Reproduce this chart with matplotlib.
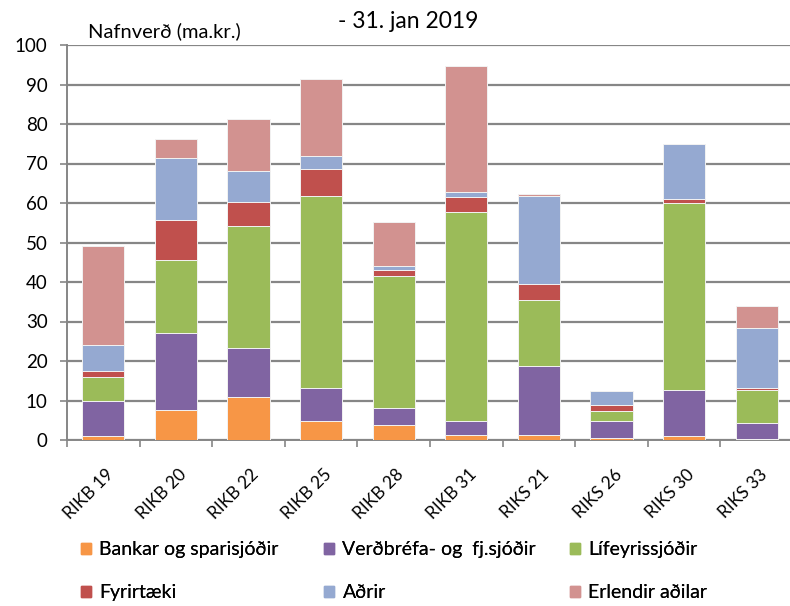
import numpy as np
import matplotlib.pyplot as plt
from matplotlib.patches import Patch

plt.rcParams['font.family'] = ['Lato', 'DejaVu Sans']

# Eigendur ríkisbréfa, nafnverð í ma.kr.
flokkar = ['RIKB 19', 'RIKB 20', 'RIKB 22', 'RIKB 25', 'RIKB 28',
           'RIKB 31', 'RIKS 21', 'RIKS 26', 'RIKS 30', 'RIKS 33']
bankar = [1.0, 7.5, 10.9, 4.7, 3.7, 1.3, 1.2, 0.4, 0.9, 0.2]
verdbref = [8.9, 19.5, 12.5, 8.5, 4.5, 3.4, 17.6, 4.4, 11.8, 4.0]
lifeyrir = [6.1, 18.6, 30.8, 48.6, 33.3, 53.0, 16.7, 2.5, 47.2, 8.5]
fyrirtaeki = [1.5, 10.0, 6.0, 6.9, 1.5, 3.9, 4.1, 1.5, 1.0, 0.5]
adrir = [6.5, 15.7, 8.0, 3.1, 1.1, 1.1, 22.1, 3.6, 14.0, 15.1]
erlendir = [25.1, 4.9, 13.1, 19.7, 11.0, 31.9, 0.5, 0.0, 0.1, 5.5]

radir = [
    ('Bankar og sparisjóðir', bankar, '#F79646'),
    ('Verðbréfa- og  fj.sjóðir', verdbref, '#8064A2'),
    ('Lífeyrissjóðir', lifeyrir, '#9BBB59'),
    ('Fyrirtæki', fyrirtaeki, '#C0504D'),
    ('Aðrir', adrir, '#95A9D1'),
    ('Erlendir aðilar', erlendir, '#D29290'),
]

fig = plt.figure(figsize=(7.9, 6.06), dpi=100)
ax = fig.add_axes([67 / 790, 1 - 440 / 606, 726 / 790, 395 / 606])

x = np.arange(len(flokkar))
botn = np.zeros(len(flokkar))
for nafn, gildi, litur in radir:
    ax.bar(x, gildi, 0.58, bottom=botn, color=litur, edgecolor='#F2F2F2',
           linewidth=0.7, zorder=3)
    botn += np.array(gildi)

ax.set_xlim(-0.5, len(flokkar) - 0.5)
ax.set_ylim(0, 100)
ax.set_yticks(np.arange(0, 101, 10))
ax.tick_params(axis='y', labelsize=13.5, length=5, width=1.2, color='#868686', pad=9)
ax.grid(axis='y', color='#868686', linewidth=1.6, zorder=0)

ax.set_xticks(x + 0.03)
ax.set_xticklabels(flokkar, rotation=45, ha='right', rotation_mode='anchor', fontsize=12.5)
ax.tick_params(axis='x', length=0, pad=19)
ax.set_xticks(np.arange(-0.5, len(flokkar), 1), minor=True)
ax.tick_params(axis='x', which='minor', length=5, width=1.2, color='#868686')

for s in ['top', 'right']:
    ax.spines[s].set_visible(False)
for s in ['left', 'bottom']:
    ax.spines[s].set_color('#868686')
    ax.spines[s].set_linewidth(1.4)

fig.text(88 / 790, 1 - 31 / 606, 'Nafnverð (ma.kr.)', fontsize=14.5, va='center')
fig.text(408 / 790, 1 - 22 / 606, '- 31. jan 2019', fontsize=16.5, ha='center', va='center')

# þrír dálkar í skýringu, hver með tvær raðir
handles = [Patch(color=litur, label=nafn) for nafn, gildi, litur in radir]
for i, xpos in enumerate([81, 324, 570]):
    leg = fig.legend(handles=[handles[i], handles[i + 3]], loc='upper left',
                     bbox_to_anchor=(xpos / 790, 1 - 541 / 606),
                     frameon=False, fontsize=14, handlelength=0.5, handleheight=0.5,
                     handletextpad=0.45, labelspacing=1.35,
                     borderpad=0, borderaxespad=0)
    fig.add_artist(leg)

fig.savefig('out.png', dpi=100)
